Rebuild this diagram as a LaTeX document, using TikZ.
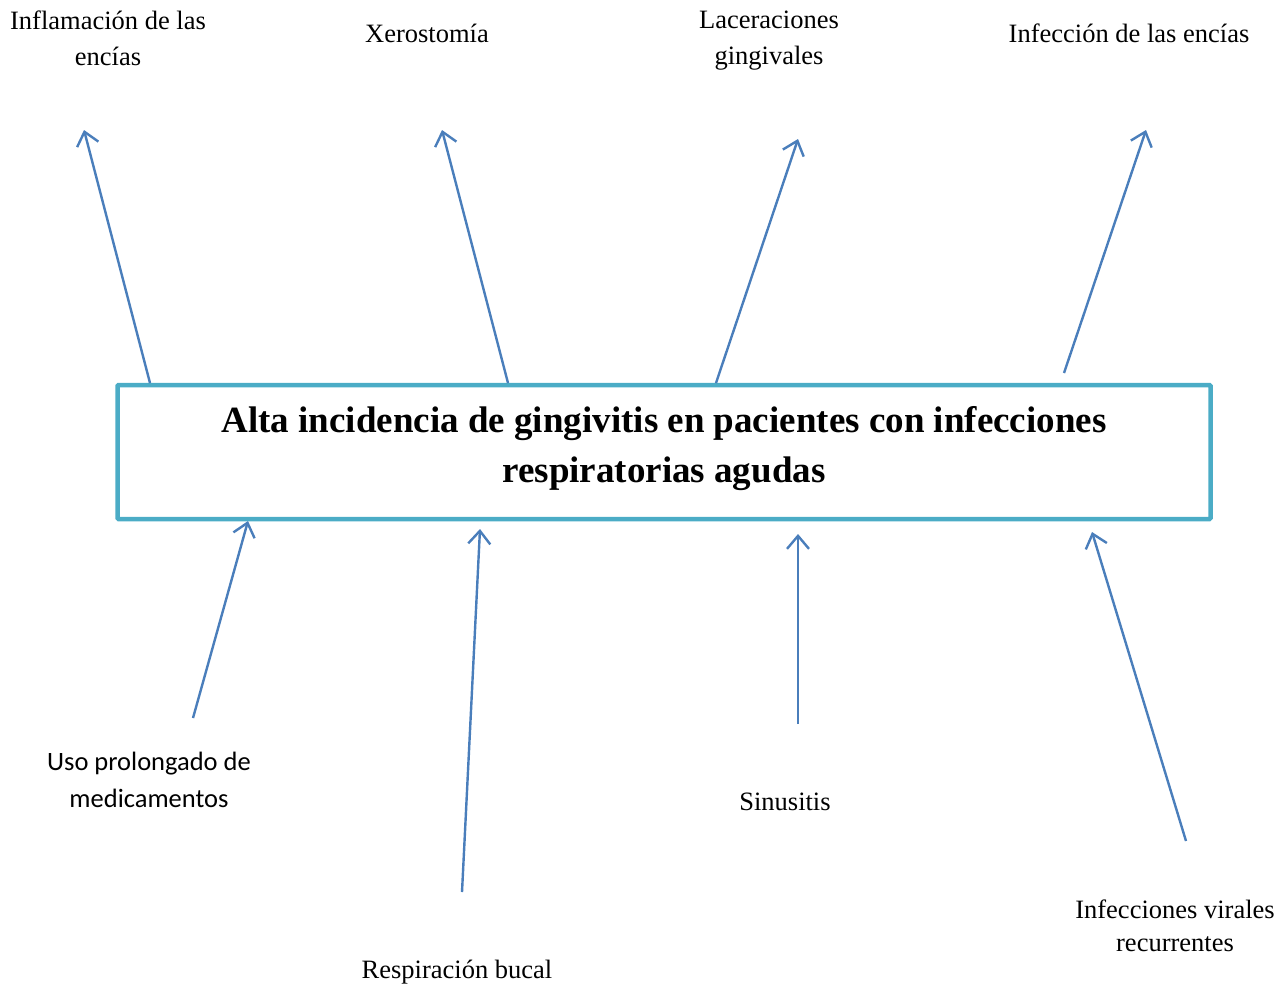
\documentclass[tikz,border=0pt]{standalone}
\usepackage{fontspec}
\setmainfont{Liberation Serif}
\newfontfamily\calibrifont{Carlito}
\usetikzlibrary{arrows.meta}
\definecolor{boxcol}{HTML}{4BACC6}
\definecolor{arrcol}{HTML}{4A7EBB}
\begin{document}
\begin{tikzpicture}[x=1pt,y=-1pt,
  lbl/.style={align=center,font=\fontsize{26.5}{36}\selectfont,inner sep=0pt},
  arr/.style={draw=arrcol,line width=2.4pt,-{Straight Barb[length=13pt,width=22pt,line width=2.4pt]}}]
\useasboundingbox (0,0) rectangle (1284,988);
\node[draw=boxcol,line width=4.5pt,rounded corners=1pt,minimum width=1093pt,minimum height=134pt,
  inner sep=0pt] (box) at (664,452) {};
\node[align=center,font=\bfseries\fontsize{37}{50}\selectfont,inner sep=0pt] (boxtext) at (664,449)
  {Alta incidencia de gingivitis en pacientes con infecciones\\respiratorias agudas};
% labels
\node[lbl] (t1) at (108,38) {Inflamación de las\\encías};
\node[lbl] (t2) at (427,33) {Xerostomía};
\node[lbl] (t3) at (769,41) {Laceraciones\\gingivales};
\node[lbl] (t4) at (1129,33) {Infección de las encías};
\node[lbl,font=\calibrifont\fontsize{26.5}{37}\selectfont] (b1) at (149,780) {Uso prolongado de\\medicamentos};
\node[lbl] (b2) at (457,972) {Respiración bucal};
\node[lbl] (b3) at (785,802) {Sinusitis};
\node[lbl,font=\fontsize{26.5}{33}\selectfont] (b4) at (1175,926) {Infecciones virales\\recurrentes};
% arrow endpoints
\coordinate (s1) at (150,383); \coordinate (e1) at (84,130);
\coordinate (s2) at (508,383); \coordinate (e2) at (442,130);
\coordinate (s3) at (716,383); \coordinate (e3) at (798,139);
\coordinate (s4) at (1064,373); \coordinate (e4) at (1146,130);
\coordinate (s5) at (193,718); \coordinate (e5) at (248,521);
\coordinate (s6) at (462,892); \coordinate (e6) at (480,529);
\coordinate (s7) at (798,724); \coordinate (e7) at (798,534);
\coordinate (s8) at (1186,841); \coordinate (e8) at (1092,532);
\foreach \i in {1,...,8} {\draw[arr] (s\i) -- (e\i);}
\end{tikzpicture}
\end{document}
